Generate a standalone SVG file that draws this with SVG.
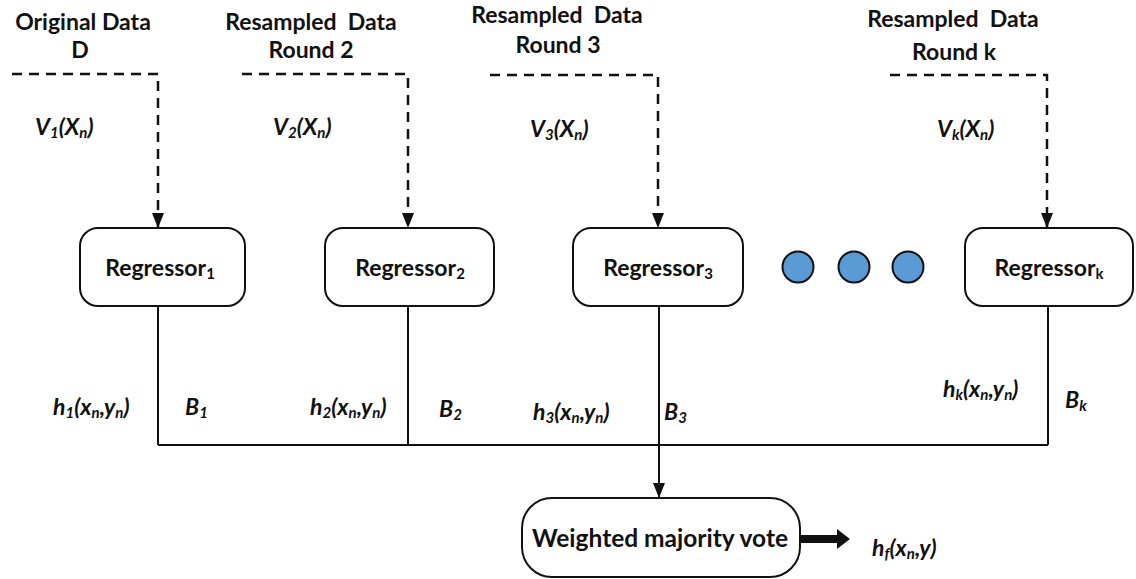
<svg xmlns="http://www.w3.org/2000/svg" width="1136" height="579" viewBox="0 0 1136 579">
<style>
text{font-family:Lato,"Liberation Sans",sans-serif;font-weight:bold;fill:#111;white-space:pre}
.hd{font-size:23px;text-anchor:middle}
.rg{font-size:23px;text-anchor:middle}
.lb{font-size:23px;font-style:italic}
.sb{font-size:15px}
.box{fill:#fff;stroke:#111;stroke-width:2}
.dash{fill:none;stroke:#111;stroke-width:2.5;stroke-dasharray:10 7}
.ln{fill:none;stroke:#111;stroke-width:2}
.dot{fill:#5b9bd5;stroke:#111;stroke-width:2}
</style>
<defs>
<marker id="ah" markerUnits="userSpaceOnUse" markerWidth="15" markerHeight="12" viewBox="0 0 15 12" refX="15" refY="6" orient="auto">
<path d="M0,0 L15,6 L0,12 z" fill="#111"/>
</marker>
</defs>
<g id="headers">
<text class="hd" x="83" y="30" xml:space="preserve">Original Data</text>
<text class="hd" x="80" y="58">D</text>
<text class="hd" x="311" y="30" xml:space="preserve">Resampled  Data</text>
<text class="hd" x="311" y="58">Round 2</text>
<text class="hd" x="557" y="23" xml:space="preserve">Resampled  Data</text>
<text class="hd" x="558" y="53">Round 3</text>
<text class="hd" x="953" y="27" xml:space="preserve">Resampled  Data</text>
<text class="hd" x="954" y="60">Round k</text>
</g>
<g id="connectors">
<path class="dash" d="M12,74 H158 V228" marker-end="url(#ah)"/>
<path class="dash" d="M242,74 H408 V228" marker-end="url(#ah)"/>
<path class="dash" d="M490,75 H658 V228" marker-end="url(#ah)"/>
<path class="dash" d="M890,75 H1047 V228" marker-end="url(#ah)"/>
<path class="ln" d="M158,306 V445 M408,306 V445 M1048,306 V445 M158,445 H1048"/>
<path class="ln" d="M659,306 V498" marker-end="url(#ah)"/>
<rect x="800" y="535" width="37" height="8" fill="#111"/>
<polygon points="837,529 850,539 837,549" fill="#111"/>
</g>
<g id="regressor1">
<rect class="box" x="80" y="228" width="165" height="78" rx="18"/>
<text class="rg" x="160" y="276">Regressor<tspan class="sb" dy="3">1</tspan></text>
</g>
<g id="regressor2">
<rect class="box" x="325" y="228" width="169" height="78" rx="18"/>
<text class="rg" x="410" y="276">Regressor<tspan class="sb" dy="3">2</tspan></text>
</g>
<g id="regressor3">
<rect class="box" x="573" y="228" width="170" height="78" rx="18"/>
<text class="rg" x="658" y="276">Regressor<tspan class="sb" dy="3">3</tspan></text>
</g>
<g id="dots">
<circle class="dot" cx="798" cy="267" r="15.5"/>
<circle class="dot" cx="854" cy="267" r="15.5"/>
<circle class="dot" cx="908" cy="267" r="15.5"/>
</g>
<g id="regressork">
<rect class="box" x="965" y="228" width="168" height="78" rx="18"/>
<text class="rg" x="1049" y="276">Regressor<tspan class="sb" dy="3">k</tspan></text>
</g>
<g id="vote">
<rect class="box" x="522" y="498" width="278" height="79" rx="30"/>
<text x="660" y="547" style="font-size:24.5px;text-anchor:middle">Weighted majority vote</text>
</g>
<g id="labels">
<text class="lb" x="35" y="135">V<tspan class="sb" dy="3">1</tspan><tspan dy="-3">(X</tspan><tspan class="sb" dy="3">n</tspan><tspan dy="-3">)</tspan></text>
<text class="lb" x="273" y="135">V<tspan class="sb" dy="3">2</tspan><tspan dy="-3">(X</tspan><tspan class="sb" dy="3">n</tspan><tspan dy="-3">)</tspan></text>
<text class="lb" x="530" y="137">V<tspan class="sb" dy="3">3</tspan><tspan dy="-3">(X</tspan><tspan class="sb" dy="3">n</tspan><tspan dy="-3">)</tspan></text>
<text class="lb" x="937" y="137">V<tspan class="sb" dy="3">k</tspan><tspan dy="-3">(X</tspan><tspan class="sb" dy="3">n</tspan><tspan dy="-3">)</tspan></text>
<text class="lb" x="53" y="415">h<tspan class="sb" dy="3">1</tspan><tspan dy="-3">(x</tspan><tspan class="sb" dy="3">n</tspan><tspan dy="-3">,y</tspan><tspan class="sb" dy="3">n</tspan><tspan dy="-3">)</tspan></text>
<text class="lb" x="185" y="415">B<tspan class="sb" dy="3">1</tspan></text>
<text class="lb" x="310" y="415">h<tspan class="sb" dy="3">2</tspan><tspan dy="-3">(x</tspan><tspan class="sb" dy="3">n</tspan><tspan dy="-3">,y</tspan><tspan class="sb" dy="3">n</tspan><tspan dy="-3">)</tspan></text>
<text class="lb" x="439" y="417">B<tspan class="sb" dy="3">2</tspan></text>
<text class="lb" x="533" y="420">h<tspan class="sb" dy="3">3</tspan><tspan dy="-3">(x</tspan><tspan class="sb" dy="3">n</tspan><tspan dy="-3">,y</tspan><tspan class="sb" dy="3">n</tspan><tspan dy="-3">)</tspan></text>
<text class="lb" x="664" y="420">B<tspan class="sb" dy="3">3</tspan></text>
<text class="lb" x="943" y="397">h<tspan class="sb" dy="3">k</tspan><tspan dy="-3">(x</tspan><tspan class="sb" dy="3">n</tspan><tspan dy="-3">,y</tspan><tspan class="sb" dy="3">n</tspan><tspan dy="-3">)</tspan></text>
<text class="lb" x="1065" y="408">B<tspan class="sb" dy="3">k</tspan></text>
<text class="lb" x="872" y="556">h<tspan class="sb" dy="3">f</tspan><tspan dy="-3">(x</tspan><tspan class="sb" dy="3">n</tspan><tspan dy="-3">,y)</tspan></text>
</g>
</svg>
